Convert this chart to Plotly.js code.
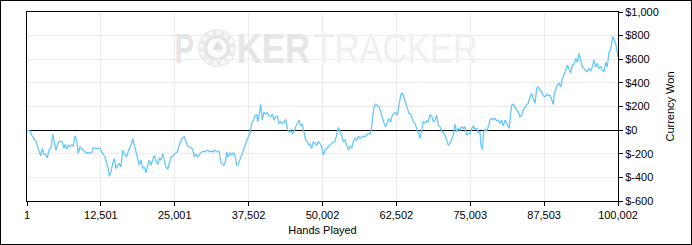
<!DOCTYPE html>
<html>
<head>
<meta charset="utf-8">
<script src="https://cdn.plot.ly/plotly-3.0.1.min.js"></script>
<style>
  html, body { margin: 0; padding: 0; background: #fff; }
  #wrap { position: relative; width: 692px; height: 245px; }
  #chart { width: 692px; height: 245px; }
  #frame { position: absolute; left: 0; top: 0; width: 692px; height: 245px; box-sizing: border-box; border: 1px solid #000; pointer-events: none; }
</style>
</head>
<body>
<div id="wrap"><div id="chart"></div><div id="frame"></div></div>
<script>
// Hands played (x) and cumulative currency won (y)
const hands = [1,508,795,1185,1523,1811,2031,2318,2589,2877,3164,3435,3723,4061,4349,4620,4907,5127,5415,5702,5973,6261,6430,6718,6988,7276,7564,7834,8122,8410,8680,8968,9256,9526,9814,10102,10372,10660,10948,11218,11506,11794,12065,12352,12640,12911,13198,13486,13757,13926,14213,14501,14772,15060,15347,15618,15906,16193,16464,
16583,16870,17141,17429,17716,17886,18157,18444,18732,19003,19290,19578,19849,20136,20424,20694,20982,21270,21540,21828,22116,22386,22674,22962,23232,23520,23808,24078,24366,24654,24924,25212,25500,25770,26058,26346,26616,26904,27192,27462,27750,28038,28308,28596,28884,29154,29442,29730,30000,30288,30576,30846,31134,31422,31692,
31980,32268,32488,32776,33047,33334,33622,33791,34062,34350,34637,34908,35196,35483,35754,36042,36329,36600,36888,37175,37446,37734,38021,38292,38580,38867,39037,39307,39544,39815,40103,40391,40661,40949,41237,41507,41795,42083,42353,42641,42929,43199,43487,43775,44045,44333,44621,44891,45179,45467,45737,46025,46313,46583,46871,47159,47429,47717,
47886,48174,48445,48732,49020,49291,49579,49866,50137,50425,50712,50983,51271,51558,51829,52117,52404,52675,52963,53250,53521,53809,54096,54367,54655,54942,55213,55501,55788,56059,56347,56635,56905,57193,57481,57751,58039,58259,58496,58716,59004,59275,59562,59850,60121,60408,60696,60967,61254,61542,61813,62100,62388,62659,62946,63234,63505,63792,64080,64351,64638,
64808,65096,65366,65654,65942,66212,66500,66788,67058,67346,67634,67904,68192,68480,68750,69038,69326,69596,69884,70172,70442,70730,71018,71288,71576,71864,72134,72422,72710,72980,73268,73556,73826,74114,74402,74672,74960,75248,75518,75806,76094,76364,76652,76821,77041,77278,77498,77786,78057,78344,78632,78903,79190,79478,79749,80036,80324,80595,
80882,81170,81441,81610,81847,82016,82287,82575,82862,83133,83421,83708,83979,84267,84554,84825,85113,85400,85671,85959,86246,86517,86805,87092,87363,87651,87938,88209,88497,88784,89055,89224,89461,89732,90020,90307,90578,90866,91153,91424,91712,92000,92270,92558,92846,93116,93404,93692,93962,94250,94538,94808,95096,95384,95654,95942,96230,96500,96788,97076,97346,97634,97922,98192,98480,98768,98937,99107,99377,99665,99953,100002];

const won = [0,-8,-42,-76,-99,-142,-170,-218,-155,-206,-206,-235,-170,-150,-34,-99,-170,-127,-99,-93,-99,-155,-121,-161,-127,-142,-127,-133,-48,-85,-197,-142,-155,-170,-178,-197,-189,-197,-189,-150,-155,-155,-161,-155,-184,-206,-226,-282,-325,-390,-353,-282,-240,-325,-297,-282,-311,-170,-197,
-206,-226,-178,-142,-113,-70,-121,-184,-226,-297,-254,-325,-311,-362,-297,-254,-297,-240,-212,-263,-291,-235,-254,-197,-254,-311,-331,-282,-226,-218,-206,-197,-178,-127,-85,-65,-57,-99,-133,-142,-147,-164,-226,-206,-226,-206,-189,-178,-184,-178,-170,-184,-178,-184,-170,
-178,-184,-175,-269,-288,-297,-260,-184,-226,-192,-212,-192,-212,-297,-288,-254,-212,-175,-127,-85,-57,-23,57,91,119,136,70,142,218,85,155,136,147,119,113,136,85,113,119,57,70,57,62,91,14,-14,-6,-28,-6,28,57,85,34,51,-14,-85,-99,-127,
-113,-155,-99,-113,-127,-99,-113,-142,-212,-170,-155,-142,-127,-108,-99,-99,-42,23,-14,-42,-99,-85,-127,-170,-136,-155,-99,-70,-85,-51,-70,-62,-51,-57,-42,-28,-34,0,113,197,220,212,197,155,99,62,28,70,99,70,127,142,147,127,212,297,316,269,212,170,142,
142,113,70,57,14,-34,-70,0,70,62,79,70,133,119,70,85,127,42,28,-6,-28,-42,-85,-127,-113,-70,-42,51,-14,14,0,28,14,28,-42,-28,-34,14,34,6,14,-23,-14,-127,-164,-14,6,-6,28,85,99,91,99,79,85,57,85,34,
85,57,28,14,142,212,220,197,170,150,113,127,170,197,218,226,282,311,269,226,353,367,339,325,291,282,303,291,297,254,218,311,353,381,396,367,432,466,508,551,508,481,551,557,608,574,650,579,536,523,500,494,523,500,536,593,536,565,523,536,508,494,574,536,664,678,748,791,763,720,636,620];

const xTickVals = [1,12501,25001,37502,50002,62502,75003,87503,100002];
const xTickText = ["1","12,501","25,001","37,502","50,002","62,502","75,003","87,503","100,002"];
const yTickVals = [1000,800,600,400,200,0,-200,-400,-600];
const yTickText = ["$1,000","$800","$600","$400","$200","$0","$-200","$-400","$-600"];

// pixel -> paper helpers for decoration placement
const L = 27, R = 618, T = 12, B = 201;
const px = v => (v - L) / (R - L);
const py = v => (B - v) / (B - T);

const wmFont = "'Liberation Sans', Arial, sans-serif";
const tickFont = {family: "'Liberation Sans', Arial, sans-serif", size: 11, color: '#000'};

const trace = {
  x: hands, y: won, type: 'scatter', mode: 'lines',
  line: {color: '#66c7fa', width: 1.3},
  hoverinfo: 'skip'
};

// watermark words: [text, centre px, horizontal squeeze, colour]
const wm = [
  ['<b>P</b>', 184, 0.68, '#e6e6e6'],
  ['<b>KER</b>', 273.5, 0.81, '#e6e6e6'],
  ['TRACKER', 395, 0.80, '#f0f0f0']
];

const layout = {
  width: 692, height: 245,
  margin: {l: L, r: 692 - R, t: T, b: 245 - B},
  paper_bgcolor: '#fff', plot_bgcolor: '#fff',
  showlegend: false,
  xaxis: {
    range: [1, 100002], tickvals: xTickVals, ticktext: xTickText,
    showline: true, mirror: true, linecolor: '#000', linewidth: 1,
    ticks: 'outside', ticklen: 4, tickcolor: '#000', tickwidth: 1,
    showgrid: true, gridcolor: '#ececec', gridwidth: 1, zeroline: false,
    tickfont: tickFont,
    title: {text: 'Hands Played', font: tickFont, standoff: 6}
  },
  yaxis: {
    side: 'right', range: [-600, 1000], tickvals: yTickVals, ticktext: yTickText,
    showline: true, mirror: true, linecolor: '#000', linewidth: 1,
    ticks: 'outside', ticklen: 4, tickcolor: '#000', tickwidth: 1,
    showgrid: true, gridcolor: '#ececec', gridwidth: 1,
    zeroline: true, zerolinecolor: '#000', zerolinewidth: 1,
    tickfont: tickFont,
    title: {text: 'Currency Won', font: tickFont, standoff: 8}
  },
  shapes: [
    {type: 'circle', xref: 'paper', yref: 'paper', layer: 'below',
     x0: px(198), x1: px(236), y0: py(67), y1: py(29),
     fillcolor: '#ebebeb', line: {width: 0}},
    {type: 'circle', xref: 'paper', yref: 'paper', layer: 'below',
     x0: px(201.5), x1: px(232.5), y0: py(63.5), y1: py(32.5),
     fillcolor: 'rgba(0,0,0,0)', line: {color: '#fafafa', width: 4, dash: 'dot'}},
    {type: 'circle', xref: 'paper', yref: 'paper', layer: 'below',
     x0: px(206), x1: px(228), y0: py(59), y1: py(37),
     fillcolor: '#fbfbfb', line: {color: '#e2e2e2', width: 2}}
  ],
  annotations: [
    {xref: 'paper', yref: 'paper', x: px(217), y: py(47), xanchor: 'center', yanchor: 'middle',
     text: '♠', showarrow: false, font: {family: "'DejaVu Sans', sans-serif", size: 15, color: '#e0e0e0'}}
  ].concat(wm.map(w => ({
     xref: 'paper', yref: 'paper', x: px(w[1]), y: py(48), xanchor: 'center', yanchor: 'middle',
     text: w[0], showarrow: false, font: {family: wmFont, size: 43, color: w[3]}
  })))
};

Plotly.newPlot('chart', [trace], layout, {staticPlot: true, displayModeBar: false}).then(gd => {
  // squeeze the watermark words horizontally to the reference's narrow lettering
  const texts = gd.querySelectorAll('.annotation-text');
  texts.forEach((t, i) => {
    if (i === 0) return;
    const s = wm[i - 1][2];
    const bb = t.getBBox();
    const cx = bb.x + bb.width / 2;
    t.setAttribute('transform', `translate(${cx},0) scale(${s},1) translate(${-cx},0)`);
  });
});
</script>
</body>
</html>
